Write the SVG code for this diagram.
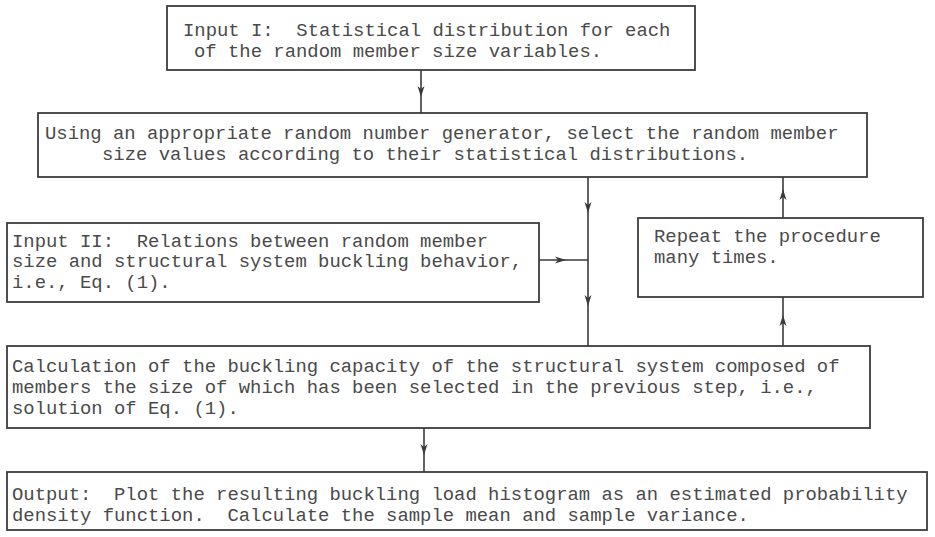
<svg xmlns="http://www.w3.org/2000/svg" xmlns:xlink="http://www.w3.org/1999/xlink" width="935" height="537" viewBox="0 0 935 537">
<style>
.box{fill:#fff;stroke:#3c3c3c;stroke-width:1.8}
.t{font-family:"Liberation Mono","Courier New",monospace;font-size:18.9px;fill:#4a4a4a;white-space:pre}
.c{stroke:#3a3a3a;stroke-width:1.6;fill:none}
.ah{fill:#3a3a3a}
</style>
<defs>
<path id="ah" class="ah" d="M0,0 L-3.5,-11 L0,-8 L3.5,-11 Z"/>
</defs>
<rect width="935" height="537" fill="#fff"/>
<g id="connectors">
<line class="c" x1="421" y1="70" x2="421" y2="113"/>
<use href="#ah" xlink:href="#ah" transform="translate(421,97)"/>
<line class="c" x1="588" y1="177" x2="588" y2="346"/>
<use href="#ah" xlink:href="#ah" transform="translate(588,213)"/>
<use href="#ah" xlink:href="#ah" transform="translate(588,306)"/>
<line class="c" x1="539" y1="260" x2="588" y2="260"/>
<use href="#ah" xlink:href="#ah" transform="translate(566,260) rotate(-90)"/>
<line class="c" x1="783" y1="346" x2="783" y2="297"/>
<use href="#ah" xlink:href="#ah" transform="translate(783,315) rotate(180)"/>
<line class="c" x1="783" y1="218" x2="783" y2="177"/>
<use href="#ah" xlink:href="#ah" transform="translate(783,189) rotate(180)"/>
<line class="c" x1="424" y1="428" x2="424" y2="472"/>
<use href="#ah" xlink:href="#ah" transform="translate(424,455)"/>
</g>
<g id="input1">
<rect class="box" x="167" y="6" width="528" height="64"/>
<text class="t" x="183" y="36">Input I:  Statistical distribution for each</text>
<text class="t" x="194" y="57">of the random member size variables.</text>
</g>
<g id="generator">
<rect class="box" x="38" y="113" width="829" height="64"/>
<text class="t" x="45" y="139">Using an appropriate random number generator, select the random member</text>
<text class="t" x="102" y="160">size values according to their statistical distributions.</text>
</g>
<g id="input2">
<rect class="box" x="7" y="223" width="532" height="79"/>
<text class="t" x="12" y="247">Input II:  Relations between random member</text>
<text class="t" x="12" y="267">size and structural system buckling behavior,</text>
<text class="t" x="12" y="288">i.e., Eq. (1).</text>
</g>
<g id="repeat">
<rect class="box" x="638" y="218" width="285" height="79"/>
<text class="t" x="654" y="242">Repeat the procedure</text>
<text class="t" x="654" y="263">many times.</text>
</g>
<g id="calculation">
<rect class="box" x="7" y="346" width="863" height="82"/>
<text class="t" x="12" y="372">Calculation of the buckling capacity of the structural system composed of</text>
<text class="t" x="12" y="393">members the size of which has been selected in the previous step, i.e.,</text>
<text class="t" x="12" y="414">solution of Eq. (1).</text>
</g>
<g id="output">
<rect class="box" x="7" y="472" width="920" height="58"/>
<text class="t" x="12" y="500">Output:  Plot the resulting buckling load histogram as an estimated probability</text>
<text class="t" x="12" y="521">density function.  Calculate the sample mean and sample variance.</text>
</g>
</svg>
